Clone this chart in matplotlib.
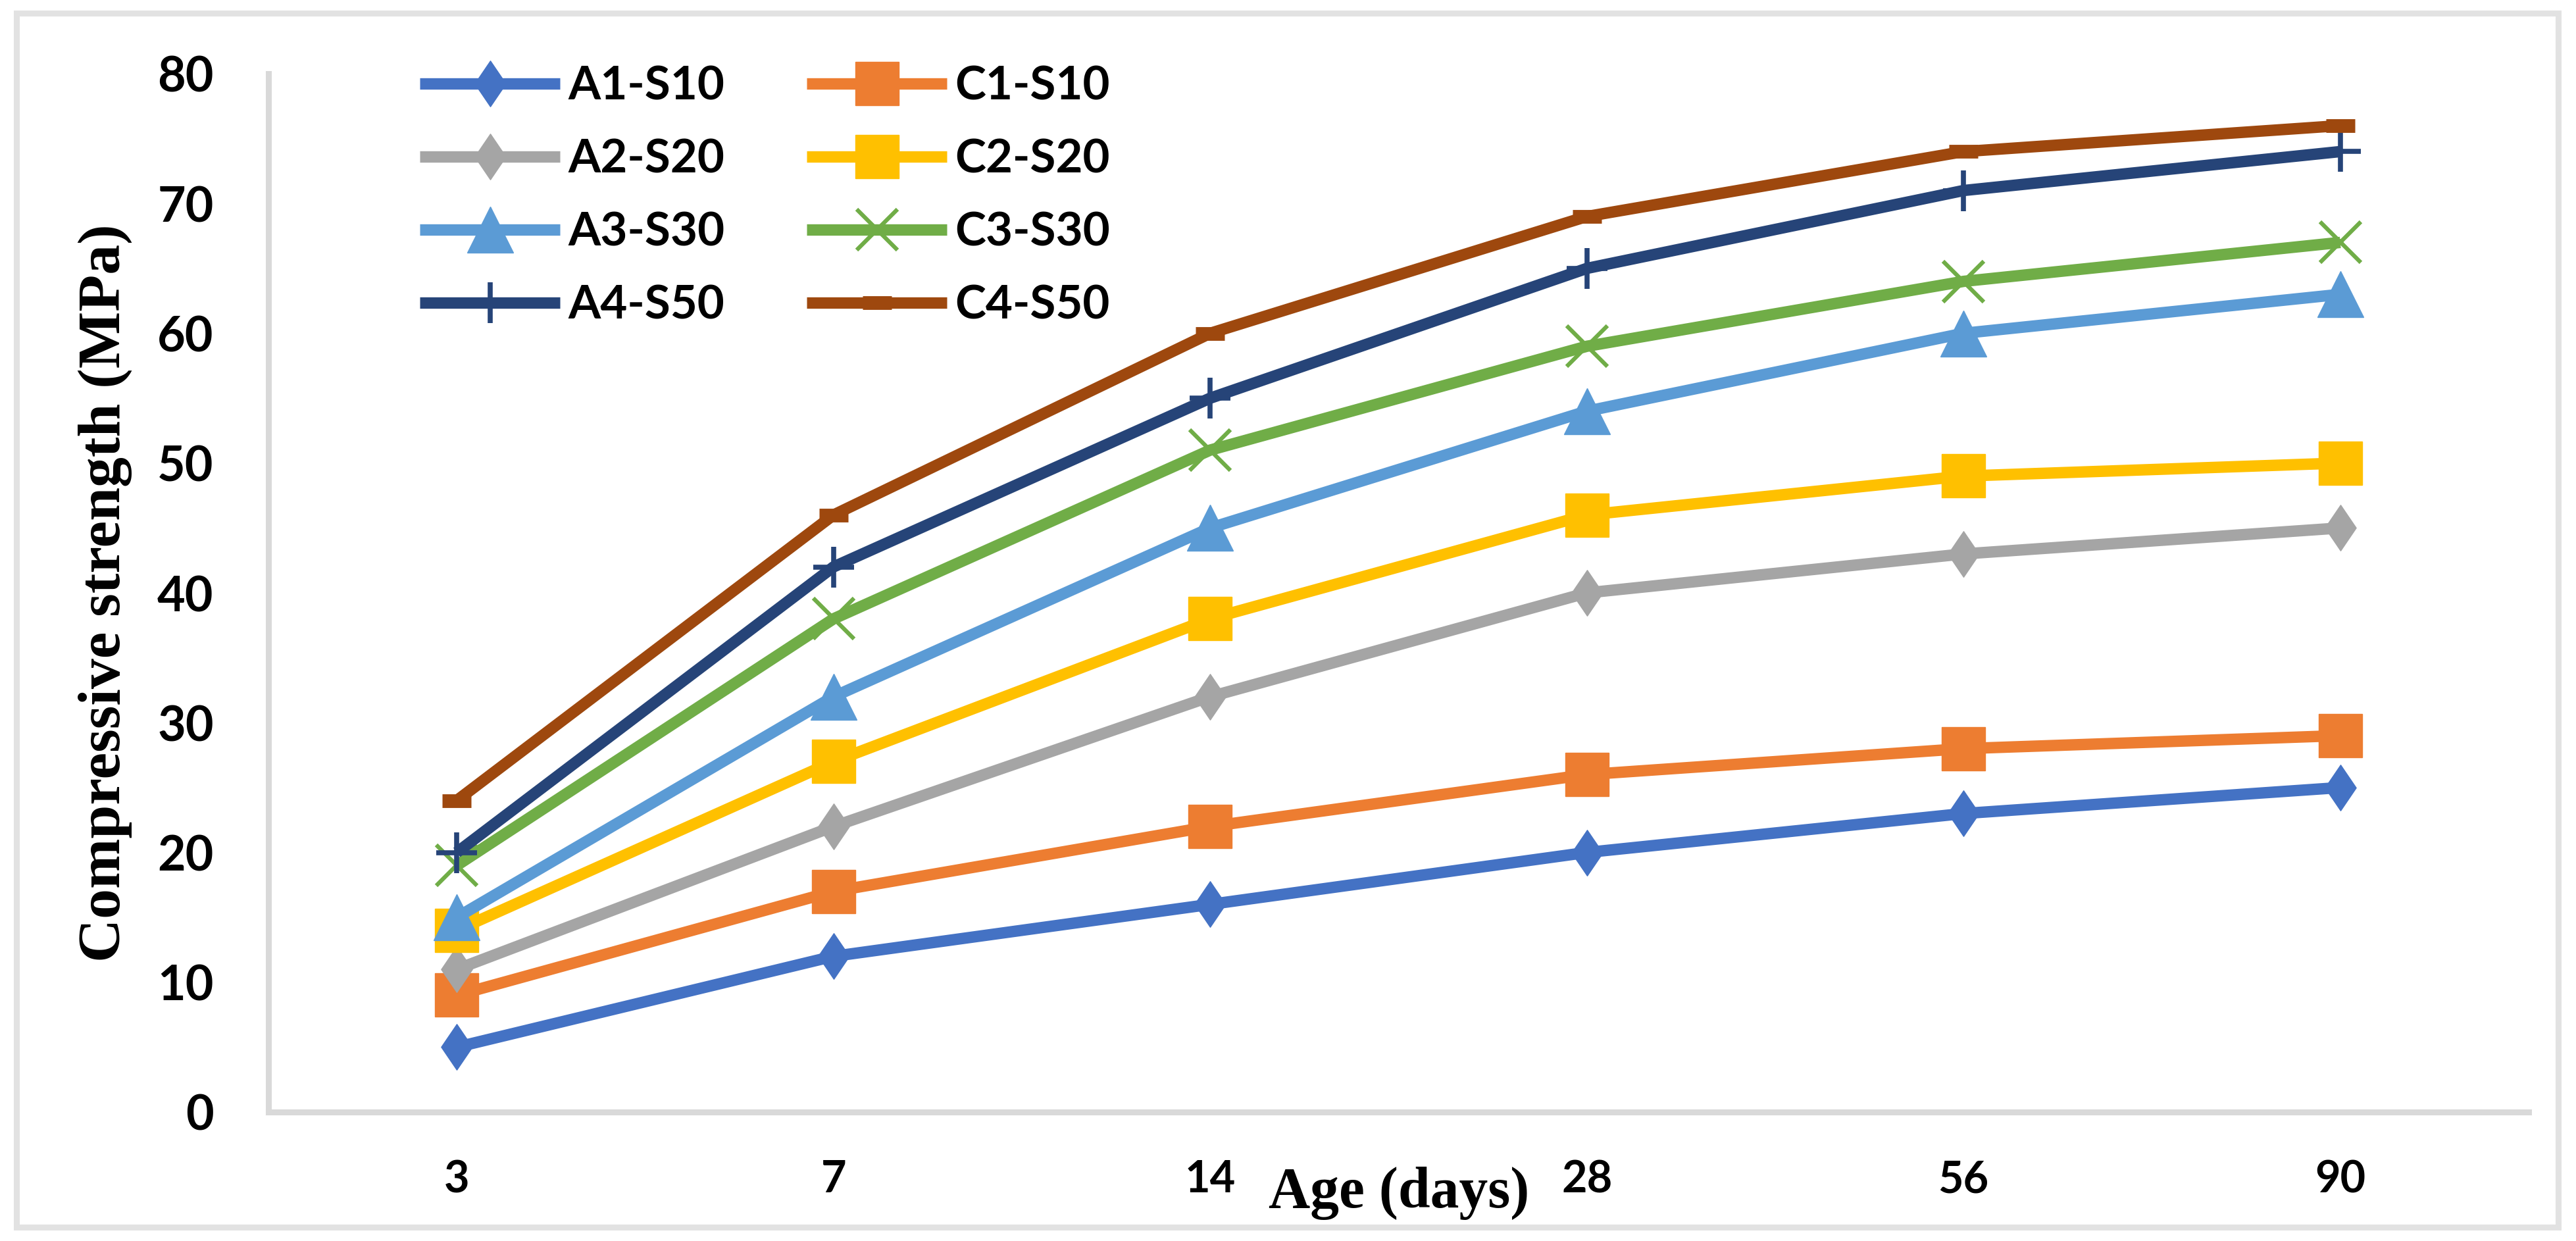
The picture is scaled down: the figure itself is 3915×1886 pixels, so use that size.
import matplotlib
matplotlib.use('Agg')
import matplotlib.pyplot as plt
from matplotlib.patches import Rectangle
from matplotlib.path import Path

# data
ages = ['3', '7', '14', '28', '56', '90']
series_names = ['A1-S10', 'C1-S10', 'A2-S20', 'C2-S20', 'A3-S30', 'C3-S30', 'A4-S50', 'C4-S50']
a1_s10 = [5, 12, 16, 20, 23, 25]
c1_s10 = [9, 17, 22, 26, 28, 29]
a2_s20 = [11, 22, 32, 40, 43, 45]
c2_s20 = [14, 27, 38, 46, 49, 50]
a3_s30 = [15, 32, 45, 54, 60, 63]
c3_s30 = [19, 38, 51, 59, 64, 67]
a4_s50 = [20, 42, 55, 65, 71, 74]
c4_s50 = [24, 46, 60, 69, 74, 76]
all_values = [a1_s10, c1_s10, a2_s20, c2_s20, a3_s30, c3_s30, a4_s50, c4_s50]

colors = ['#4472C4', '#ED7D31', '#A5A5A5', '#FFC000',
          '#5B9BD5', '#70AD47', '#264478', '#9E480E']

# Excel-like diamond: a bit taller than wide
diamond = Path([(0, 1), (0.68, 0), (0, -1), (-0.68, 0), (0, 1)],
               [Path.MOVETO, Path.LINETO, Path.LINETO, Path.LINETO, Path.CLOSEPOLY])

# marker, size (pt), edge width (pt)
marker_styles = [(diamond, 50, 1), ('s', 48, 1), (diamond, 50, 1), ('s', 48, 1),
                 ('^', 50, 1), ('x', 44, 4.5), ('+', 44, 5.5), ('_', 32, 15)]

W, H = 3915, 1886
fig = plt.figure(figsize=(W / 100, H / 100), dpi=100)

# plot area in pixels of the reference
left, right, bottom, top = 408, 3843, 1690, 112
ax = fig.add_axes([left / W, 1 - bottom / H, (right - left) / W, (bottom - top) / H])

x = list(range(len(ages)))
lines = []
for name, vals, col, (mk, ms, mew) in zip(series_names, all_values, colors, marker_styles):
    ln, = ax.plot(x, vals, color=col, lw=12.5, marker=mk, markersize=ms,
                  markeredgewidth=mew, markerfacecolor=col, markeredgecolor=col,
                  label=name, clip_on=False, solid_joinstyle='round',
                  solid_capstyle='butt')
    lines.append(ln)

ax.set_xlim(-0.5, len(ages) - 0.5)
ax.set_ylim(0, 80)
ax.set_yticks(range(0, 81, 10))
ax.set_xticks(x)
ax.set_xticklabels(ages)

for side in ['top', 'right']:
    ax.spines[side].set_visible(False)
for side in ['left', 'bottom']:
    ax.spines[side].set_color('#d9d9d9')
    ax.spines[side].set_linewidth(6.5)

ax.tick_params(axis='both', length=0)
ax.tick_params(axis='y', pad=60)
ax.tick_params(axis='x', pad=52)
for lab in ax.get_yticklabels():
    lab.set_fontfamily('Lato')
    lab.set_fontweight('bold')
    lab.set_fontsize(53)
for lab in ax.get_xticklabels():
    lab.set_fontfamily('Lato')
    lab.set_fontweight('bold')
    lab.set_fontsize(48)

fig.text(160 / W, 1 - 901 / H, 'Compressive strength (MPa)', rotation=90,
         ha='center', va='center', fontsize=66, fontweight='bold',
         family='Liberation Serif')
fig.text(2126 / W, 1 - 1835 / H, 'Age (days)', ha='center', va='baseline',
         fontsize=63, fontweight='bold', family='Liberation Serif')

# legend: A series in the first column, C series in the second
order = [0, 2, 4, 6, 1, 3, 5, 7]
fig.legend([lines[i] for i in order], [series_names[i] for i in order],
           loc='upper left', bbox_to_anchor=(603 / W, 1 - 63 / H), ncol=2,
           frameon=False, borderpad=0, handlelength=3.0, handletextpad=0.18,
           columnspacing=1.76, labelspacing=0.65, numpoints=1,
           prop={'family': 'Lato', 'weight': 'bold', 'size': 51})

# light grey frame around the whole chart
fig.add_artist(Rectangle((25 / W, 1 - 1865 / H), (3888 - 25) / W, (1865 - 20) / H,
                         transform=fig.transFigure, fill=False,
                         edgecolor='#e2e2e2', linewidth=6.5))

fig.savefig('out.png', dpi=100, facecolor='white')
